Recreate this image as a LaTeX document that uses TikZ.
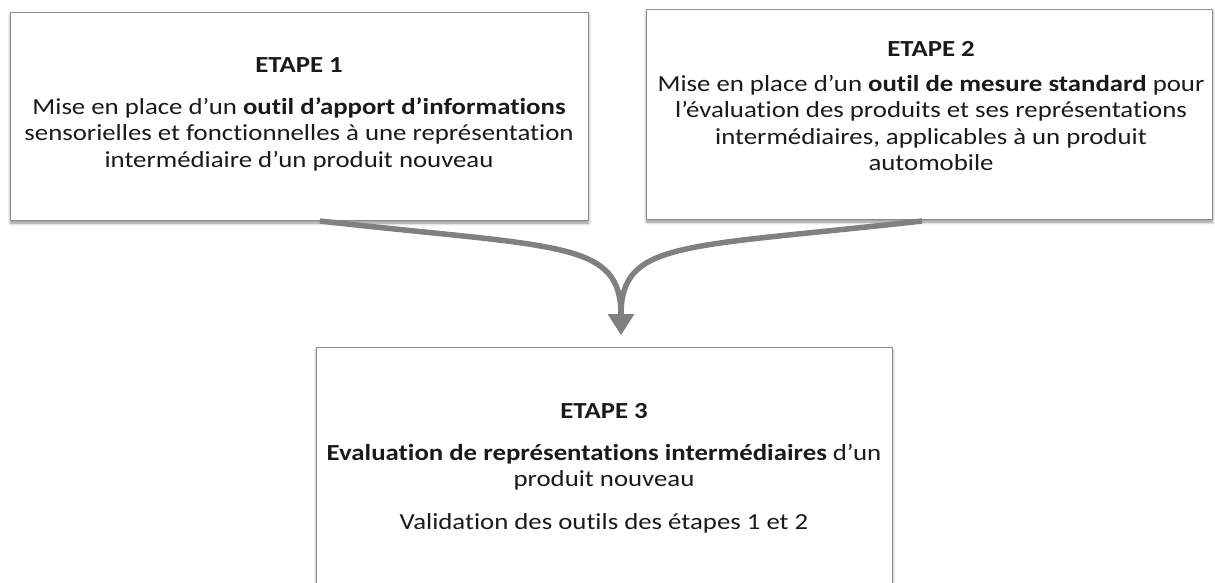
\documentclass[tikz,border=0pt]{standalone}
\usepackage{fontspec}
\setmainfont{Carlito}[FakeStretch=1.165, Ligatures=NoCommon]
\usetikzlibrary{shadows.blur,arrows.meta}
\definecolor{arrowgray}{HTML}{808080}
\definecolor{boxline}{HTML}{8C8C8C}
\definecolor{txtcol}{HTML}{1A1A1A}
\begin{document}
\begin{tikzpicture}[x=1pt,y=-1pt,
  box/.style={draw=boxline, line width=0.8pt, fill=white, inner sep=0pt,
    blur shadow={shadow xshift=0.5pt, shadow yshift=-3pt, shadow blur radius=3pt, shadow opacity=45}},
  ln/.style={anchor=base, inner sep=0pt, text=txtcol, font=\fontsize{23}{26}\selectfont},
  conn/.style={draw=arrowgray, line width=5.5pt}]
\useasboundingbox (0,0) rectangle (1215,583);
\clip (0,0) rectangle (1215,583);
\node[box, minimum width=578pt, minimum height=208pt] (b1) at (299,116) {};
\node[box, minimum width=566pt, minimum height=210pt] (b2) at (929,114) {};
\node[box, minimum width=576pt, minimum height=280pt] (b3) at (604,487) {};
% box 1
\node[ln] (t1a) at (299,73) {\textbf{ETAPE 1}};
\node[ln] (t1b) at (299,115) {Mise en place d’un \textbf{outil d’apport d’informations}};
\node[ln] (t1c) at (299,141) {sensorielles et fonctionnelles à une représentation};
\node[ln] (t1d) at (299,167) {intermédiaire d’un produit nouveau};
% box 2
\node[ln] (t2a) at (931,57) {\textbf{ETAPE 2}};
\node[ln] (t2b) at (931,92) {Mise en place d’un \textbf{outil de mesure standard} pour};
\node[ln] (t2c) at (931,118) {l’évaluation des produits et ses représentations};
\node[ln] (t2d) at (931,144) {intermédiaires, applicables à un produit};
\node[ln] (t2e) at (931,170) {automobile};
% box 3
\node[ln] (t3a) at (604,418) {\textbf{ETAPE 3}};
\node[ln] (t3b) at (604,460) {\textbf{Evaluation de représentations intermédiaires} d’un};
\node[ln] (t3c) at (604,486) {produit nouveau};
\node[ln] (t3d) at (604,529) {Validation des outils des étapes 1 et 2};
% connectors
\coordinate (s1) at (320,221);
\coordinate (s2) at (922,221);
\coordinate (tip) at (621,335);
\draw[conn, -{Triangle[width=25pt,length=21pt]}] (s1) .. controls (560,248) and (621,240) .. (tip);
\draw[conn, -{Triangle[width=25pt,length=21pt]}] (s2) .. controls (682,248) and (621,240) .. (tip);
\end{tikzpicture}
\end{document}
